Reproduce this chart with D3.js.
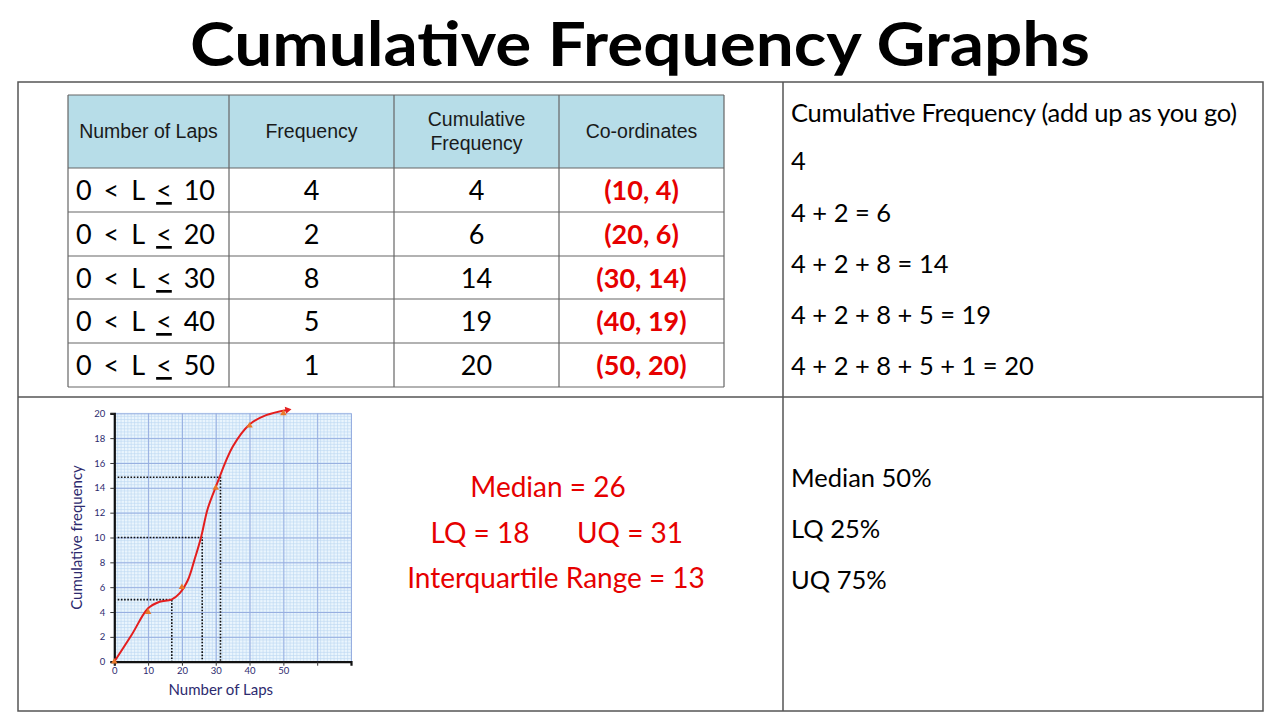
<!DOCTYPE html>
<html>
<head>
<meta charset="utf-8">
<script src="https://cdn.jsdelivr.net/npm/d3@7/dist/d3.min.js"></script>
<style>
  body { margin: 0; background: #fff; }
  svg { display: block; }
</style>
</head>
<body>
<div id="figure"></div>
<script>
// table data
const headers = ['Number of Laps', 'Frequency', 'Cumulative|Frequency', 'Co-ordinates']
const upperBounds = [10, 20, 30, 40, 50]
const frequency = [4, 2, 8, 5, 1]
const cumFrequency = [4, 6, 14, 19, 20]

// right hand notes
const sumLines = ['Cumulative Frequency (add up as you go)', '4', '4 + 2 = 6', '4 + 2 + 8 = 14',
  '4 + 2 + 8 + 5 = 19', '4 + 2 + 8 + 5 + 1 = 20']
const percentLines = ['Median 50%', 'LQ 25%', 'UQ 75%']

// graph: plotted points and the hand drawn curve
const pointsX = [0, 10, 20, 30, 40, 50]
const pointsY = [0, 4, 6, 14, 19, 20]
const curveX = [0, 5.1, 10, 13.4, 16.9, 19.3, 21.8, 23.7, 25.7, 27.6, 30.2, 35, 40, 44.9, 51.2]
const curveY = [0, 2.15, 4.3, 4.83, 5.0, 5.5, 6.6, 8.2, 10.07, 12.3, 14.2, 17.3, 19.1, 19.85, 20.27]
const quartileX = [17, 26, 31.4]
const quartileY = [5, 10, 14.85]
const xTickLabels = [0, 10, 20, 30, 40, 50]
const yTickLabels = [0, 2, 4, 6, 8, 10, 12, 14, 16, 18, 20]

const red = '#e60000'
const navy = '#2d2a6e'
const body = 'Lato, "Open Sans", sans-serif'

const svg = d3.select('#figure')
  .append('svg')
  .attr('width', 1280)
  .attr('height', 720)

// title
svg.append('text')
  .attr('x', 640)
  .attr('y', 66)
  .attr('text-anchor', 'middle')
  .attr('font-family', body)
  .attr('font-weight', 'bold')
  .attr('font-size', 62)
  .attr('textLength', 900)
  .attr('lengthAdjust', 'spacingAndGlyphs')
  .text('Cumulative Frequency Graphs')

// outer frame
const frame = svg.append('g')
  .attr('stroke', '#555')
  .attr('stroke-width', 1.5)
frame.append('rect')
  .attr('x', 18).attr('y', 82)
  .attr('width', 1245).attr('height', 629)
  .attr('fill', 'none')
frame.append('line').attr('x1', 783).attr('x2', 783).attr('y1', 82).attr('y2', 711)
frame.append('line').attr('x1', 18).attr('x2', 1263).attr('y1', 397).attr('y2', 397)

// frequency table
const colEdges = [68, 229, 394, 559, 724]
const rowEdges = [95, 168, 212, 256, 299, 343, 387]
const tbl = svg.append('g')

tbl.append('rect')
  .attr('x', colEdges[0]).attr('y', rowEdges[0])
  .attr('width', colEdges[4] - colEdges[0])
  .attr('height', rowEdges[1] - rowEdges[0])
  .attr('fill', '#b7dde8')

headers.forEach(function(h, i) {
  const cx = (colEdges[i] + colEdges[i + 1]) / 2
  const parts = h.split('|')
  const t = tbl.append('text')
    .attr('text-anchor', 'middle')
    .attr('font-family', '"Liberation Sans", Arial, sans-serif')
    .attr('font-size', 19.5)
    .attr('fill', '#1a1a1a')
  parts.forEach(function(p, j) {
    t.append('tspan')
      .attr('x', cx)
      .attr('y', 138 + (j - (parts.length - 1) / 2) * 24)
      .text(p)
  })
})

upperBounds.forEach(function(b, i) {
  const base = rowEdges[i + 1] + 32
  const t = tbl.append('text')
    .attr('x', 76)
    .attr('y', base)
    .attr('font-family', body)
    .attr('font-size', 27)
    .attr('word-spacing', 5)
    .attr('fill', '#000')
  t.append('tspan').text('0 < L ')
  t.append('tspan').attr('text-decoration', 'underline').text('<')
  t.append('tspan').text(' ' + b)

  tbl.append('text')
    .attr('x', (colEdges[1] + colEdges[2]) / 2)
    .attr('y', base)
    .attr('text-anchor', 'middle')
    .attr('font-family', body)
    .attr('font-size', 27)
    .text(frequency[i])

  tbl.append('text')
    .attr('x', (colEdges[2] + colEdges[3]) / 2)
    .attr('y', base)
    .attr('text-anchor', 'middle')
    .attr('font-family', body)
    .attr('font-size', 27)
    .text(cumFrequency[i])

  tbl.append('text')
    .attr('x', (colEdges[3] + colEdges[4]) / 2)
    .attr('y', base)
    .attr('text-anchor', 'middle')
    .attr('font-family', body)
    .attr('font-weight', 'bold')
    .attr('font-size', 27)
    .attr('fill', red)
    .text('(' + b + ', ' + cumFrequency[i] + ')')
})

const tLines = tbl.append('g')
  .attr('stroke', '#666')
  .attr('stroke-width', 1.2)
colEdges.forEach(function(x) {
  tLines.append('line').attr('x1', x).attr('x2', x).attr('y1', rowEdges[0]).attr('y2', rowEdges[6])
})
rowEdges.forEach(function(y) {
  tLines.append('line').attr('x1', colEdges[0]).attr('x2', colEdges[4]).attr('y1', y).attr('y2', y)
})

// right hand notes
const sumBase = [122, 170, 222, 273, 324, 375]
sumLines.forEach(function(s, i) {
  svg.append('text')
    .attr('x', 791)
    .attr('y', sumBase[i])
    .attr('font-family', body)
    .attr('font-size', 25.5)
    .attr('textLength', i === 0 ? 446 : null)
    .text(s)
})
percentLines.forEach(function(s, i) {
  svg.append('text')
    .attr('x', 791)
    .attr('y', 487 + i * 51)
    .attr('font-family', body)
    .attr('font-size', 25.5)
    .text(s)
})

// red results
const results = [
  { t: 'Median = ' + 26, x: 548, y: 497 },
  { t: 'LQ = ' + 18, x: 480, y: 543 },
  { t: 'UQ = ' + 31, x: 630, y: 543 },
  { t: 'Interquartile Range = ' + (31 - 18), x: 556, y: 588 }
]
results.forEach(function(r) {
  svg.append('text')
    .attr('x', r.x)
    .attr('y', r.y)
    .attr('text-anchor', 'middle')
    .attr('font-family', body)
    .attr('font-size', 28)
    .attr('fill', red)
    .text(r.t)
})

// cumulative frequency graph
const x = d3.scaleLinear().domain([0, 70]).range([114.3, 351])
const y = d3.scaleLinear().domain([0, 20]).range([661.7, 413.3])
const g = svg.append('g')

g.append('rect')
  .attr('x', x(0)).attr('y', y(20))
  .attr('width', x(70) - x(0))
  .attr('height', y(0) - y(20))
  .attr('fill', '#eaf5fd')

g.append('g')
  .attr('stroke', '#bcd6f2')
  .attr('stroke-width', 0.6)
  .selectAll('line.vx')
  .data(d3.range(0, 70.01, 1))
  .enter()
  .append('line')
  .attr('x1', d => x(d)).attr('x2', d => x(d))
  .attr('y1', y(0)).attr('y2', y(20))
g.append('g')
  .attr('stroke', '#bcd6f2')
  .attr('stroke-width', 0.6)
  .selectAll('line.hy')
  .data(d3.range(0, 20.01, 0.25))
  .enter()
  .append('line')
  .attr('y1', d => y(d)).attr('y2', d => y(d))
  .attr('x1', x(0)).attr('x2', x(70))

// major grid
g.append('g')
  .attr('transform', `translate(0, ${y(0)})`)
  .call(d3.axisBottom(x).tickValues(d3.range(0, 70.01, 10)).tickSize(-(y(0) - y(20))).tickFormat(''))
  .call(gg => gg.select('.domain').remove())
  .selectAll('line').attr('stroke', '#97aee0').attr('stroke-width', 1)
g.append('g')
  .attr('transform', `translate(${x(0)}, 0)`)
  .call(d3.axisLeft(y).tickValues(yTickLabels).tickSize(-(x(70) - x(0))).tickFormat(''))
  .call(gg => gg.select('.domain').remove())
  .selectAll('line').attr('stroke', '#97aee0').attr('stroke-width', 1)

// axes with labels
const xAxis = g.append('g')
  .attr('transform', `translate(0, ${y(0)})`)
  .call(d3.axisBottom(x).tickValues(d3.range(0, 60.01, 10)).tickSize(4).tickPadding(2)
    .tickFormat(d => xTickLabels.includes(d) ? d : ''))
xAxis.select('.domain').attr('stroke', '#111').attr('stroke-width', 2.2)
xAxis.selectAll('line').attr('stroke', '#333')
xAxis.selectAll('text').attr('fill', navy).attr('font-size', 9.5).attr('font-family', body)

const yAxis = g.append('g')
  .attr('transform', `translate(${x(0)}, 0)`)
  .call(d3.axisLeft(y).tickValues(yTickLabels).tickSize(4).tickPadding(5))
yAxis.select('.domain').attr('stroke', '#111').attr('stroke-width', 2.2)
yAxis.selectAll('line').attr('stroke', '#333')
yAxis.selectAll('text').attr('fill', navy).attr('font-size', 9.5).attr('font-family', body)

g.append('text')
  .attr('x', x(31.5))
  .attr('y', 695)
  .attr('text-anchor', 'middle')
  .attr('font-family', body)
  .attr('font-size', 15)
  .attr('fill', navy)
  .text('Number of Laps')
g.append('text')
  .attr('transform', `translate(82, ${y(10)}) rotate(-90)`)
  .attr('text-anchor', 'middle')
  .attr('font-family', body)
  .attr('font-size', 15)
  .attr('fill', navy)
  .text('Cumulative frequency')

// quartile read-off lines
quartileX.forEach(function(qx, i) {
  const qy = quartileY[i]
  g.append('path')
    .attr('d', `M${x(1)},${y(qy)}H${x(qx)}V${y(0)}`)
    .attr('fill', 'none')
    .attr('stroke', '#111')
    .attr('stroke-width', 1.6)
    .attr('stroke-dasharray', '1.6,1.6')
})

// curve
const line = d3.line()
  .x(d => x(d[0]))
  .y(d => y(d[1]))
  .curve(d3.curveCatmullRom.alpha(0.5))
g.append('path')
  .datum(curveX.map((cx, i) => [cx, curveY[i]]))
  .attr('d', line)
  .attr('fill', 'none')
  .attr('stroke', '#e41e1e')
  .attr('stroke-width', 2)

// arrow tip at the end of the curve
const n = curveX.length - 1
g.append('path')
  .attr('d', d3.symbol().type(d3.symbolTriangle).size(22))
  .attr('transform', `translate(${x(curveX[n])}, ${y(curveY[n])}) rotate(80)`)
  .attr('fill', '#e41e1e')

// plotted points
g.append('g')
  .selectAll('path')
  .data(pointsX)
  .enter()
  .append('path')
  .attr('d', d3.symbol().type(d3.symbolTriangle).size(18))
  .attr('transform', (d, i) => `translate(${x(d)}, ${y(pointsY[i])})`)
  .attr('fill', '#e8782a')
</script>
</body>
</html>
